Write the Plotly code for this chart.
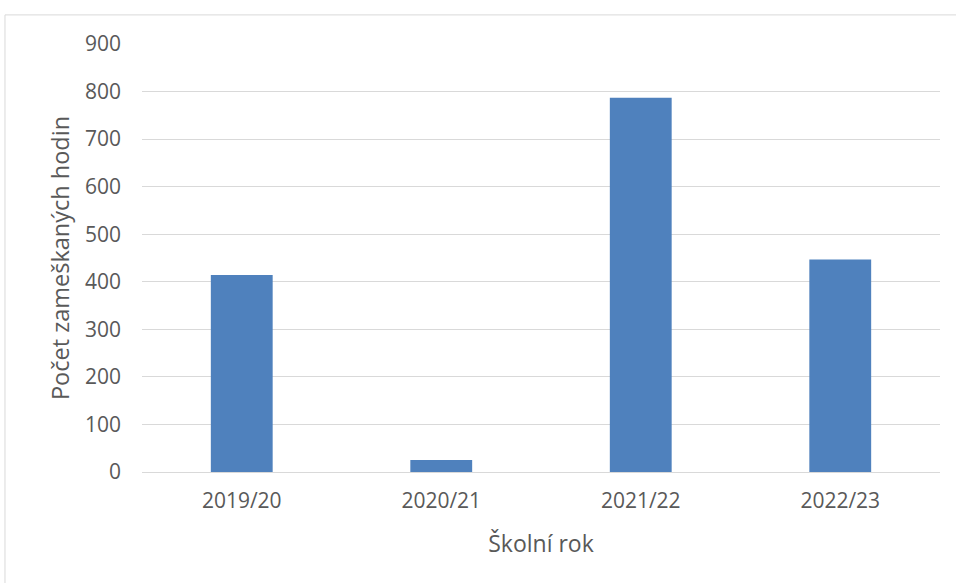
import plotly.graph_objects as go

# School years and missed lesson counts
skolni_roky = ["2019/20", "2020/21", "2021/22", "2022/23"]
zameskane_hodiny = [414, 25, 787, 447]
y_ticks = [0, 100, 200, 300, 400, 500, 600, 700, 800, 900]

BAR_COLOR = "#4f81bd"
TEXT_COLOR = "#595959"
GRID_COLOR = "#d9d9d9"
FONT = "Open Sans"

fig = go.Figure(
    go.Bar(
        x=skolni_roky,
        y=zameskane_hodiny,
        marker=dict(color=BAR_COLOR, line=dict(width=0)),
    )
)

fig.update_layout(
    width=956,
    height=583,
    margin=dict(l=142, r=16, t=44, b=111),
    paper_bgcolor="white",
    plot_bgcolor="white",
    bargap=0.69,
    showlegend=False,
    font=dict(family=FONT, color=TEXT_COLOR, size=21),
    shapes=[
        # chart area border
        dict(
            type="rect", xref="paper", yref="paper",
            x0=-0.1717, x1=1.5, y0=-0.5, y1=1.068,
            line=dict(color="#d9d9d9", width=1), fillcolor="rgba(0,0,0,0)",
            layer="below",
        )
    ],
)

fig.update_xaxes(
    showgrid=False,
    showline=True,
    linecolor=GRID_COLOR,
    linewidth=1,
    ticks="",
    ticklabelstandoff=10,
    tickfont=dict(size=21, color=TEXT_COLOR),
    title=dict(text="Školní rok", font=dict(size=23, color=TEXT_COLOR), standoff=22),
)

fig.update_yaxes(
    range=[0, 900],
    tickvals=y_ticks,
    showgrid=True,
    gridcolor=GRID_COLOR,
    gridwidth=1,
    zeroline=False,
    showline=False,
    ticks="",
    ticklabelstandoff=20,
    tickfont=dict(size=21, color=TEXT_COLOR),
    title=dict(text="Počet zameškaných hodin", font=dict(size=23.5, color=TEXT_COLOR), standoff=8),
)

fig.write_html("out.html")
